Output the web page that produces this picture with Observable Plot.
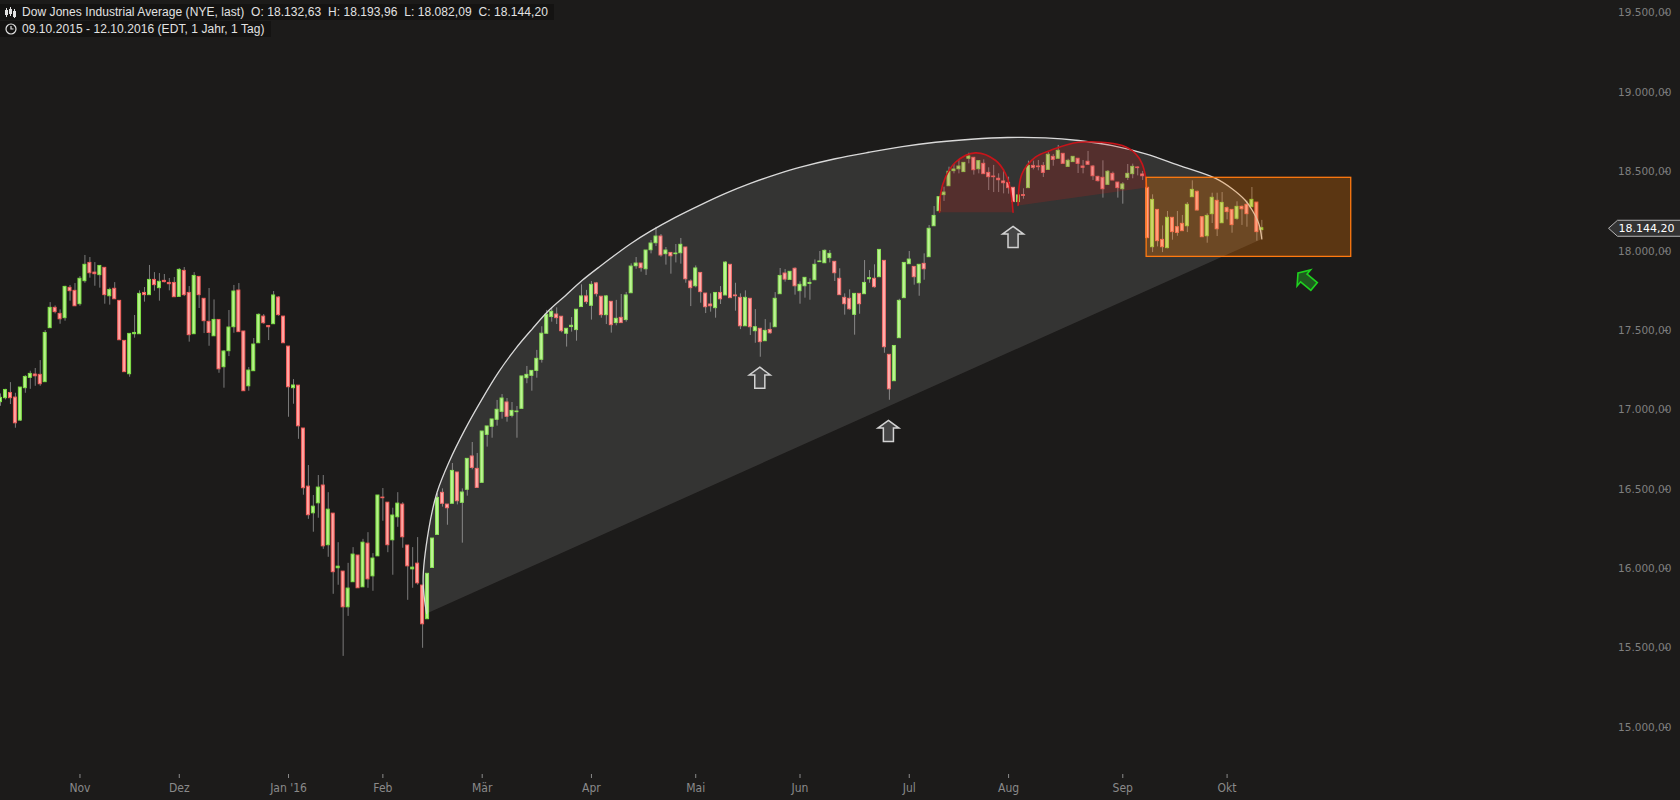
<!DOCTYPE html>
<html>
<head>
<meta charset="utf-8">
<script src="https://cdn.jsdelivr.net/npm/d3@7"></script>
<script src="https://cdn.jsdelivr.net/npm/@observablehq/plot@0.6"></script>
<style>
  html, body { margin: 0; padding: 0; background: #1c1b1a; }
  #wrap { position: relative; width: 1680px; height: 800px; overflow: hidden; background: #1c1b1a; }
  #chart svg { display: block; }
  #title { position: absolute; left: 0; top: 4px; font: 12px "Liberation Sans", Arial, sans-serif; color: #e2e2e2; letter-spacing: 0.06px; }
  #title .row { display: inline-flex; align-items: center; height: 16px; padding: 0 6px 0 5px; background: rgba(0,0,0,0.28); white-space: pre; }
  #title .row svg { margin-right: 5px; }
</style>
</head>
<body>
<div id="wrap">
  <div id="chart"></div>
  <div id="title"></div>
</div>
<script>
// ---- Data: Dow Jones Industrial Average, daily candles 09.10.2015 – 12.10.2016 (trading-day index) ----
const opens = [17049,17074,17107,17078,16933,17137,17202,17223,17221,17175,17515,17643,17605,17578,17769,17750,17666,17811,17926,17865,
17849,17895,17716,17763,17687,17435,17225,17477,17477,17737,17723,17819,17767,17813,17800,17800,17712,17876,17737,17477,
17838,17700,17555,17464,17567,17269,17370,17521,17752,17494,17149,17244,17420,17588,17529,17540,17708,17588,17399,17137,
17153,16883,16517,16349,16412,16524,16148,16347,16003,15982,15757,15915,16083,15883,16158,15952,16078,16448,16416,16179,
16324,16404,16146,15996,16032,15894,15682,16005,16213,16478,16404,16409,16606,16415,16497,16707,16629,16541,16843,16894,
16938,16988,17047,16963,16986,17007,17200,17215,17246,17316,17480,17585,17601,17587,17480,17522,17503,17648,17715,17656,
17797,17713,17597,17681,17547,17580,17566,17735,17905,17922,17886,18006,18050,18092,17981,17989,17981,17987,18023,17809,
17779,17863,17733,17664,17641,17737,17721,17914,17721,17706,17527,17700,17496,17511,17433,17504,17521,17729,17859,17819,
17889,17748,17779,17794,17817,17931,17924,17956,17933,17826,17706,17700,17599,17731,17729,17823,17826,17836,17939,17347,
17181,17452,17704,17918,17901,17798,17920,17962,18157,18252,18353,18409,18504,18516,18498,18582,18588,18516,18550,18493,
18470,18456,18439,18430,18399,18309,18353,18397,18537,18533,18537,18512,18594,18582,18613,18531,18561,18582,18533,18563,
18533,18468,18462,18418,18487,18432,18390,18462,18485,18527,18483,18399,18025,18260,18071,18019,18210,18151,18172,18157,
18340,18374,18214,18094,18233,18317,18176,18271,18260,18204,18279,18292,18277,18306,18132.63];
const highs = [17101,17130,17172,17105,17141,17216,17244,17261,17311,17500,17676,17655,17630,17779,17784,17796,17840,17973,17960,17928,
17907,17895,17767,17802,17687,17435,17479,17595,17750,17771,17910,17865,17859,17853,17828,17834,17891,17897,17777,17865,
17838,17700,17765,17693,17567,17374,17626,17784,17796,17494,17267,17450,17605,17601,17529,17746,17714,17588,17399,17191,
17153,16883,16650,16461,16587,16587,16479,16347,16164,15982,16034,16133,16083,16185,16227,16095,16461,16505,16416,16381,
16479,16416,16146,16133,16196,15894,15968,16190,16472,16503,16404,16663,16606,16503,16692,16795,16726,16864,16896,16940,
17060,17097,17072,17047,17022,17211,17274,17246,17375,17524,17627,17643,17643,17587,17511,17582,17631,17788,17753,17809,
17803,17713,17721,17681,17690,17727,17740,17920,17960,17922,18004,18067,18150,18105,18023,17989,18042,18080,18023,17819,
17907,17863,17733,17731,17737,17777,17933,17914,17798,17731,17750,17700,17632,17511,17569,17548,17739,17891,17884,17870,
17895,17807,17832,17826,17945,17998,18008,18004,17933,17889,17731,17756,17731,17731,17941,17878,17914,18008,17939,17347,
17403,17697,17926,17998,17901,17914,17983,18162,18281,18340,18403,18529,18546,18571,18556,18617,18588,18567,18575,18525,
18540,18487,18512,18466,18399,18351,18393,18567,18567,18571,18558,18624,18609,18666,18613,18579,18594,18582,18571,18628,
18540,18472,18569,18508,18498,18432,18432,18546,18548,18531,18502,18399,18355,18260,18159,18250,18210,18250,18225,18306,
18443,18378,18214,18235,18365,18365,18369,18279,18260,18311,18285,18315,18401,18306,18193.96];
const lows = [17023,17063,17034,16885,16927,17105,17130,17149,17149,17174,17515,17605,17540,17559,17685,17653,17653,17798,17830,17779,
17767,17666,17660,17697,17439,17238,17206,17452,17477,17679,17723,17748,17685,17800,17750,17710,17712,17714,17427,17477,
17639,17481,17401,17464,17231,17137,17336,17483,17490,17118,17118,17244,17420,17540,17437,17540,17590,17420,16954,17036,
16815,16463,16311,16230,16318,16122,16072,15839,15896,15448,15700,15915,15877,15883,15877,15858,16078,16299,16101,15959,
16261,16129,15801,15877,15896,15499,15682,16005,16213,16388,16274,16409,16402,16161,16457,16623,16509,16541,16766,16822,
16898,16942,16923,16950,16822,17007,17165,17118,17200,17295,17480,17553,17538,17486,17396,17490,17433,17648,17664,17566,
17711,17578,17538,17484,17530,17547,17553,17735,17886,17868,17847,17983,18029,17962,17912,17855,17926,17918,17798,17651,
17769,17672,17607,17616,17578,17664,17721,17704,17622,17506,17527,17469,17420,17332,17433,17477,17521,17729,17805,17819,
17723,17666,17704,17691,17817,17931,17924,17926,17809,17723,17597,17628,17471,17603,17729,17798,17767,17836,17357,17061,
17181,17452,17704,17918,17786,17716,17817,17962,18157,18252,18313,18409,18487,18487,18498,18550,18479,18487,18485,18382,
18369,18369,18361,18359,18309,18288,18327,18397,18512,18506,18464,18512,18535,18582,18550,18529,18561,18489,18487,18544,
18445,18435,18334,18418,18445,18334,18296,18445,18456,18474,18445,18082,17991,18027,17991,18015,18069,18094,18124,18117,
18340,18254,18088,18050,18174,18092,18176,18197,18113,18195,18162,18151,18277,18063,18082.09];
const closes = [17076,17126,17074,16916,17141,17208,17227,17212,17162,17485,17643,17616,17571,17775,17748,17653,17826,17914,17861,17855,
17907,17723,17756,17697,17439,17238,17479,17485,17731,17723,17819,17786,17807,17805,17792,17710,17882,17723,17471,17844,
17723,17559,17485,17567,17256,17368,17519,17746,17490,17118,17248,17412,17599,17546,17521,17721,17597,17420,17143,17154,
16897,16507,16337,16391,16511,16141,16372,15978,16013,15757,15875,16089,15877,16164,15933,16064,16461,16444,16148,16335,
16410,16198,16015,16007,15908,15650,15968,16190,16446,16409,16381,16616,16425,16480,16692,16635,16509,16864,16896,16940,
17001,17072,16957,16994,16990,17211,17221,17246,17322,17480,17599,17618,17578,17496,17511,17530,17631,17715,17679,17788,
17729,17597,17715,17534,17574,17547,17721,17903,17922,17893,18004,18048,18092,17973,18004,17968,17985,18040,17823,17767,
17891,17742,17647,17653,17737,17697,17928,17704,17716,17527,17706,17521,17521,17427,17498,17483,17700,17844,17821,17870,
17779,17788,17832,17800,17914,17935,18002,17983,17861,17723,17666,17634,17731,17666,17800,17830,17773,18008,17395,17130,
17403,17687,17926,17947,17836,17914,17886,18141,18222,18340,18369,18500,18514,18533,18556,18596,18510,18567,18485,18466,
18466,18447,18428,18397,18309,18351,18348,18537,18525,18529,18493,18607,18575,18632,18550,18569,18594,18550,18525,18544,
18472,18441,18390,18500,18445,18397,18420,18487,18531,18523,18472,18082,18323,18063,18025,18210,18120,18115,18126,18292,
18386,18256,18088,18222,18336,18138,18304,18246,18164,18279,18264,18233,18323,18120,18144.20];

// month labels on the trading-day index
const monthTickIndex = [16, 36, 58, 77, 97, 119, 140, 161, 183, 203, 226, 247];
const monthTickLabels = ["Nov", "Dez", "Jan '16", "Feb", "Mär", "Apr", "Mai", "Jun", "Jul", "Aug", "Sep", "Okt"];
const priceTicks = [15000, 15500, 16000, 16500, 17000, 17500, 18000, 18500, 19000, 19500];

// annotations (trading-day index, price)
const bigArcIdx   = [85.8, 85.1, 86.2, 87.9, 90.3, 93.6, 97.0, 100.3, 103.7, 107.1, 110.4, 113.8, 117.1, 120.5, 126.9, 130.9, 135.9, 141.0, 146.0, 151.0, 156.1, 161.1, 168.1, 174.9, 181.6, 188.3, 195.5, 202.8, 210.4, 217.1, 223.9, 230.6, 237.3, 244.7, 248.0, 250.7, 252.1, 253.4, 254.0];
const bigArcPrice = [15718, 15926, 16241, 16480, 16671, 16881, 17070, 17238, 17385, 17511, 17626, 17721, 17815, 17899, 18047, 18126, 18213, 18292, 18364, 18427, 18482, 18529, 18582, 18623, 18659, 18686, 18705, 18716, 18714, 18697, 18665, 18613, 18540, 18458, 18393, 18319, 18256, 18172, 18077];
const top1Idx   = [189.1, 189.3, 190.3, 192.3, 196.3, 200.4, 202.4, 203.4, 203.9];
const top1Price = [18245, 18361, 18466, 18560, 18619, 18571, 18487, 18382, 18245];
const top2Idx   = [204.9, 205.7, 208.4, 211.4, 217.1, 225.9, 228.6, 229.9, 230.6, 230.8];
const top2Price = [18288, 18487, 18592, 18634, 18686, 18665, 18613, 18550, 18466, 18401];
const boxIdx = [230.8, 272.0];
const boxPrice = [17964, 18462];
const arrowIdx = [152.9, 178.8, 203.9];
const arrowPrice = [17203, 16868, 18090];
const greenArrowIdx = [262.9];
const greenArrowPrice = [17820];

// ---- build ----
const de = d3.formatLocale({decimal: ",", thousands: ".", grouping: [3], currency: ["", ""]});
const fmt = de.format(",.2f");

const candles = closes.map((c, i) => ({i, o: opens[i], h: highs[i], l: lows[i], c}));
const last = candles[candles.length - 1];
const isUp = d => d.c >= d.o;
const bigArc = bigArcIdx.map((x, k) => ({x, y: bigArcPrice[k]}));
const top1 = top1Idx.map((x, k) => ({x, y: top1Price[k]}));
const top2 = top2Idx.map((x, k) => ({x, y: top2Price[k]}));
const arrows = arrowIdx.map((x, k) => ({x, y: arrowPrice[k]}));
const greenArrows = greenArrowIdx.map((x, k) => ({x, y: greenArrowPrice[k]}));
const tickLabel = new Map(monthTickIndex.map((t, k) => [t, monthTickLabels[k]]));

function arrowSymbol(angleDeg) {
  const a = angleDeg * Math.PI / 180, ca = Math.cos(a), sa = Math.sin(a);
  return {
    draw(ctx, size) {
      const r = Math.sqrt(size / Math.PI);
      const pts = [[0, -r], [r, -0.27 * r], [0.48 * r, -0.27 * r], [0.48 * r, r], [-0.48 * r, r], [-0.48 * r, -0.27 * r], [-r, -0.27 * r]]
        .map(([px, py]) => [px * ca - py * sa, px * sa + py * ca]);
      ctx.moveTo(pts[0][0], pts[0][1]);
      for (let k = 1; k < pts.length; ++k) ctx.lineTo(pts[k][0], pts[k][1]);
      ctx.closePath();
    }
  };
}
const priceTag = {
  draw(ctx) {
    ctx.moveTo(-67, 0); ctx.lineTo(-58, -8); ctx.lineTo(5, -8); ctx.lineTo(5, 8); ctx.lineTo(-58, 8); ctx.closePath();
  }
};

const chart = Plot.plot({
  width: 1680,
  height: 800,
  marginLeft: 0,
  marginRight: 5,
  marginTop: 0,
  marginBottom: 4,
  style: {background: "#1c1b1a", color: "#858585", fontFamily: "DejaVu Sans"},
  x: {domain: [0, 337.3], axis: null},
  y: {domain: [14565.5, 19578.7], axis: null},
  marks: [
    Plot.ruleX(candles, {x: "i", y1: "l", y2: "h", stroke: "#7a7a7a", strokeWidth: 1}),
    Plot.rect(candles, {
      x1: d => d.i - 0.4, x2: d => d.i + 0.4, y1: "o", y2: "c",
      fill: d => isUp(d) ? "#b6f28a" : "#ffa6a3",
      stroke: d => isUp(d) ? "#7ee044" : "#f25e5b",
      strokeWidth: 1, insetLeft: 0.5, insetRight: 0.5
    }),
    // big rounding arc (filled polygon + light stroke)
    Plot.line(bigArc, {x: "x", y: "y", curve: "catmull-rom", fill: "#ffffff", fillOpacity: 0.11, stroke: "none"}),
    Plot.line(bigArc, {x: "x", y: "y", curve: "catmull-rom", stroke: "#d9d9d9", strokeWidth: 1.3}),
    // double top arcs
    Plot.line(top1, {x: "x", y: "y", curve: "catmull-rom", fill: "#c8201c", fillOpacity: 0.22, stroke: "#c8141a", strokeWidth: 1.6}),
    Plot.line(top2, {x: "x", y: "y", curve: "catmull-rom", fill: "#c8201c", fillOpacity: 0.22, stroke: "#c8141a", strokeWidth: 1.6}),
    // consolidation box
    Plot.rect([0], {x1: () => boxIdx[0], x2: () => boxIdx[1], y1: () => boxPrice[0], y2: () => boxPrice[1],
      fill: "#ff7f00", fillOpacity: 0.28, stroke: "#ff7a10", strokeWidth: 1.3}),
    // arrows
    Plot.dot(arrows, {x: "x", y: "y", r: 10.5, symbol: arrowSymbol(0), fill: "#454545", stroke: "#d2d2d2", strokeWidth: 1.5}),
    Plot.dot(greenArrows, {x: "x", y: "y", r: 10.5, symbol: arrowSymbol(-50), fill: "#1f5a1f", stroke: "#1fd21f", strokeWidth: 1.6}),
    // axes
    Plot.axisX(monthTickIndex, {anchor: "bottom", tickSize: 4, tickFormat: d => tickLabel.get(d), dy: -22,
      fontFamily: "DejaVu Sans Condensed", fontSize: 12, fontStretch: "condensed", stroke: "#8a8a8a", fill: "#8a8a8a"}),
    Plot.axisY(priceTicks, {anchor: "right", tickSize: 5, tickFormat: fmt, textAnchor: "end", dx: -13,
      fontFamily: "DejaVu Sans", fontSize: 10.5, stroke: "#7a7a7a", fill: "#7f7f7f"}),
    // last price tag
    Plot.dot([last], {y: "c", frameAnchor: "right", r: 8, symbol: priceTag, fill: "#333333", stroke: "#b5b5b5", strokeWidth: 1}),
    Plot.text([last], {y: "c", frameAnchor: "right", text: d => fmt(d.c), textAnchor: "end", dx: -1,
      fill: "#ffffff", fontSize: 11, fontFamily: "DejaVu Sans"})
  ]
});
document.getElementById("chart").appendChild(chart);

// title lines
const candleIcon = '<svg width="12" height="11" viewBox="0 0 12 11"><g stroke="#e2e2e2" fill="none" stroke-width="1"><line x1="1.5" y1="1" x2="1.5" y2="10"/><rect x="0.5" y="3.5" width="2" height="4"/><line x1="5.5" y1="0" x2="5.5" y2="9"/><rect x="4.5" y="2.5" width="2" height="4"/><line x1="9.5" y1="2" x2="9.5" y2="11"/><rect x="8.5" y="4.5" width="2" height="5"/></g></svg>';
const clockIcon = '<svg width="12" height="12" viewBox="0 0 12 12"><circle cx="6" cy="6" r="5" stroke="#e2e2e2" fill="none" stroke-width="1.2"/><path d="M6 3 V6 H8.5" stroke="#e2e2e2" fill="none" stroke-width="1.2"/></svg>';
document.getElementById("title").innerHTML =
  '<div class="row">' + candleIcon + 'Dow Jones Industrial Average (NYE, last)  O: ' + fmt(last.o) + '  H: ' + fmt(last.h) +
  '  L: ' + fmt(last.l) + '  C: ' + fmt(last.c) + '</div><br><div class="row">' + clockIcon +
  '09.10.2015 - 12.10.2016 (EDT, 1 Jahr, 1 Tag)</div>';
</script>
</body>
</html>
